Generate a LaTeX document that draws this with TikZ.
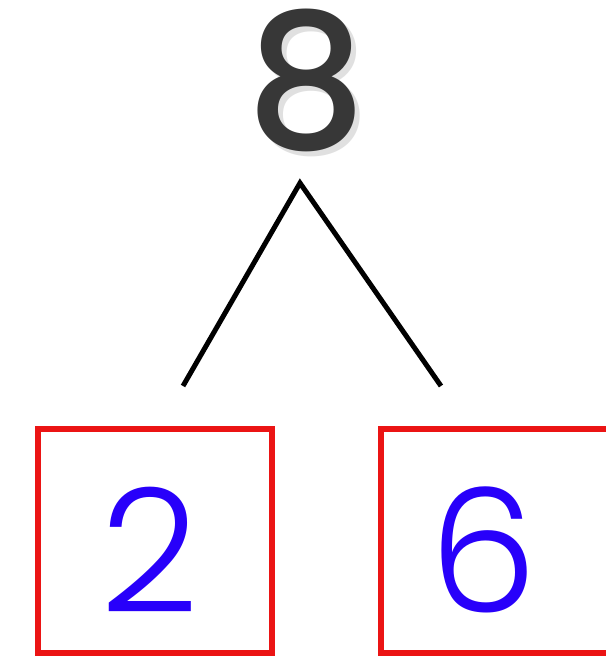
\documentclass[tikz,border=0pt]{standalone}
\usepackage{fontspec}
\setmainfont{Poppins}
\newfontfamily\lightfont{Poppins Light}
\newfontfamily\mediumfont{Poppins Medium}
\definecolor{numblue}{RGB}{40,0,250}
\definecolor{boxred}{RGB}{235,20,20}
\definecolor{topgray}{RGB}{55,55,55}
\tikzset{
  numbox/.style={draw=boxred, line width=6pt, minimum width=234pt, minimum height=224pt, inner sep=0pt, anchor=north west},
  numtext/.style={text=numblue, font=\lightfont\fontsize{172}{172}\selectfont, inner sep=0pt, anchor=base},
  toptext/.style={text=topgray, font=\mediumfont\fontsize{188}{188}\selectfont, inner sep=0pt, anchor=base},
  branch/.style={line width=5pt, black}
}
\begin{document}
\begin{tikzpicture}[x=1pt,y=-1pt]
\useasboundingbox (0,0) rectangle (605,661);
\fill[white] (0,0) rectangle (605,661);
\node[toptext, text=gray!40, opacity=0.6] (shadow) at (311,153) {8};
\node[toptext] (top) at (306,148) {8};
\coordinate (apex) at (300,183);
\coordinate (lend) at (183,386);
\coordinate (rend) at (441,386);
\draw[branch] (lend) -- (apex) -- (rend);
\node[numbox] (lbox) at (35,426) {};
\node[numbox] (rbox) at (378,426) {};
\node[numtext] (two) at (150,612) {2};
\node[numtext] (six) at (484,612) {6};
\end{tikzpicture}
\end{document}
